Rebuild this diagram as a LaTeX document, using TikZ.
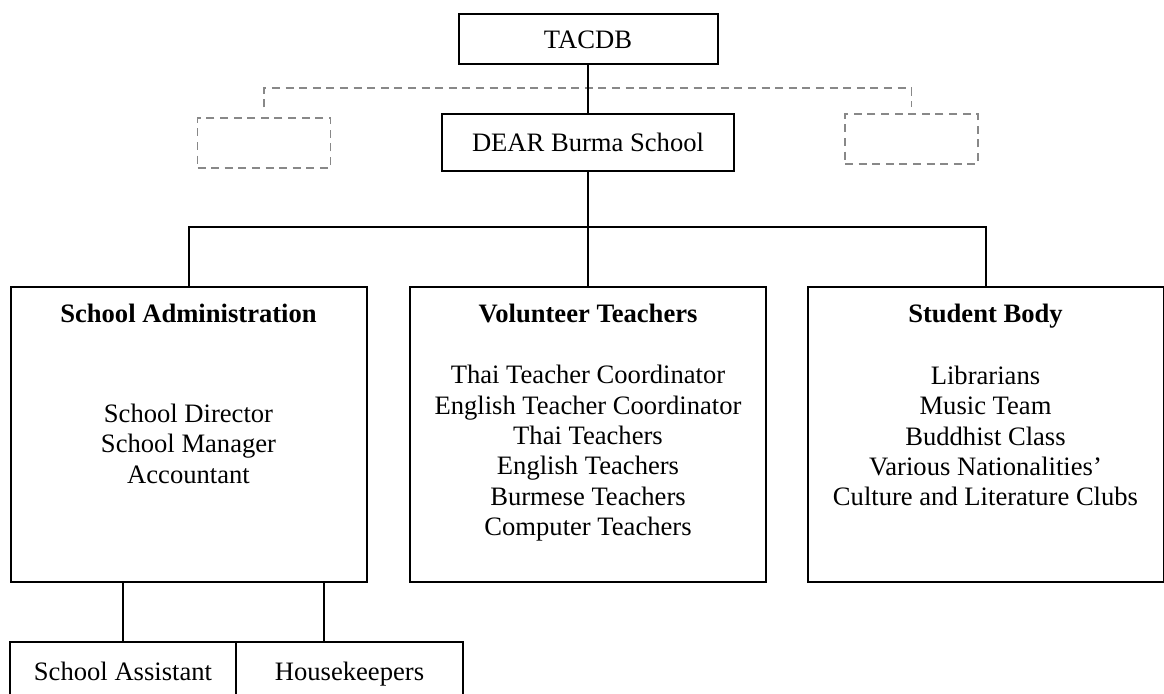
\documentclass[tikz,border=0pt]{standalone}
\usepackage{fontspec}
\setmainfont{Liberation Serif}
\usepackage{tikz}
\definecolor{ghostgray}{RGB}{136,136,136}
\tikzstyle{unit}=[draw,line width=1pt,inner sep=0pt,text height=9pt,text depth=0pt,font=\fontsize{13.3pt}{15.15pt}\selectfont]
\tikzstyle{bigunit}=[unit,minimum width=178pt,minimum height=147.5pt]
\tikzstyle{ghost}=[draw=ghostgray,line width=0.75pt,dash pattern=on 4pt off 2.8pt,minimum width=66.5pt,minimum height=25pt]
\tikzstyle{link}=[line width=1pt]
\tikzstyle{ghostlink}=[draw=ghostgray,line width=0.75pt,dash pattern=on 4pt off 2.8pt]
\tikzstyle{head}=[anchor=base,inner sep=0pt,font=\fontsize{13.3pt}{15.15pt}\selectfont\bfseries]
\tikzstyle{duties}=[anchor=north,align=center,inner sep=0pt,font=\fontsize{13.3pt}{15.15pt}\selectfont]

\begin{document}
\begin{tikzpicture}[x=0.5pt,y=-0.5pt]  % one unit = one pixel, y downwards
\useasboundingbox (0,0) rectangle (1164,693);

% top of the chart
\node[unit,minimum width=129.5pt,minimum height=25pt] (tacdb) at (588,39) {TACDB};
\node[unit,minimum width=146pt,minimum height=28.5pt] (dear) at (588,142.5) {DEAR Burma School};
\node[ghost] (ghostL) at (264,143) {};
\node[ghost] (ghostR) at (911.5,139) {};
\coordinate (fork) at (588,88);
\coordinate (bar) at (588,227);

\draw[ghostlink] ([yshift=5pt]ghostL.north)
      |- (fork)
      -| ([yshift=3pt]ghostR.north);
\draw[link] (tacdb) -- (dear);

% the three branches
\node[bigunit] (admin) at (188.5,434.5) {};
\node[bigunit] (teach) at (588,434.5) {};
\node[bigunit] (stud) at (985.5,434.5) {};

\node[head] (adminhead) at (188.5,322) {School Administration};
\node[head] (teachhead) at (588,322) {Volunteer Teachers};
\node[head] (studhead) at (985.5,322) {Student Body};

\node[duties] (adminlist) at (188.5,400.8) {\strut School Director\\School Manager\\Accountant};
\node[duties] (teachlist) at (588,362.3) {\strut Thai Teacher Coordinator\\English Teacher Coordinator\\Thai Teachers\\English Teachers\\Burmese Teachers\\Computer Teachers};
\node[duties] (studlist) at (985.5,362.8) {\strut Librarians\\Music Team\\Buddhist Class\\Various Nationalities’\\Culture and Literature Clubs};

\draw[link] (dear) -- (teach);
\draw[link] (admin.north)
      |- (bar)
      -| (stud.north);

% staff under the administration
\node[unit,minimum width=113pt,minimum height=29pt] (assist) at (123,671) {School Assistant};
\node[unit,minimum width=113.5pt,minimum height=29pt] (keep) at (349.5,671) {Housekeepers};

\draw[link] (assist.north) -- (assist.north |- admin.south);
\draw[link] ([xshift=-12.75pt]keep.north) -- ([xshift=-12.75pt]keep.north |- admin.south);
\end{tikzpicture}
\end{document}
